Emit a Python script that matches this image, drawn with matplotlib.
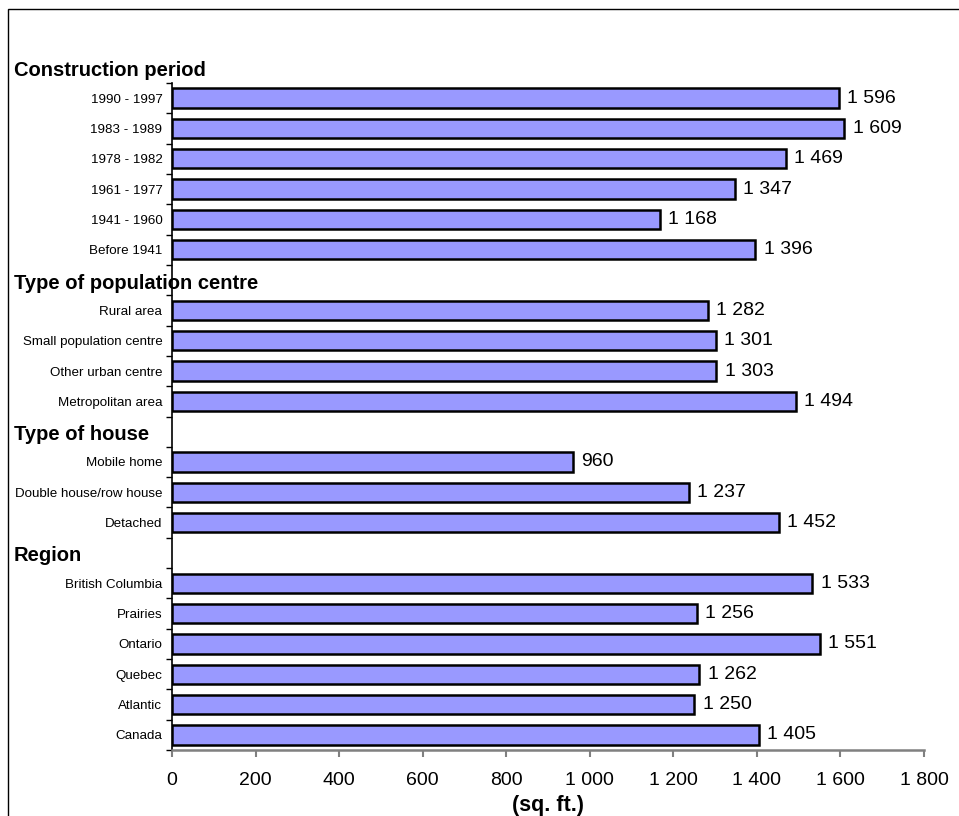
import matplotlib
import matplotlib.pyplot as plt
import matplotlib.patches as mpatches
import matplotlib.transforms as mtransforms

matplotlib.use("Agg")

plt.rcParams["font.family"] = ["Liberation Sans", "DejaVu Sans"]

# data, top to bottom within each group
construction_labels = ["1990 - 1997", "1983 - 1989", "1978 - 1982", "1961 - 1977",
                       "1941 - 1960", "Before 1941"]
construction_values = [1596, 1609, 1469, 1347, 1168, 1396]

population_labels = ["Rural area", "Small population centre", "Other urban centre",
                     "Metropolitan area"]
population_values = [1282, 1301, 1303, 1494]

house_labels = ["Mobile home", "Double house/row house", "Detached"]
house_values = [960, 1237, 1452]

region_labels = ["British Columbia", "Prairies", "Ontario", "Quebec", "Atlantic", "Canada"]
region_values = [1533, 1256, 1551, 1262, 1250, 1405]

group_titles = ["Construction period", "Type of population centre", "Type of house", "Region"]
x_ticks = [0, 200, 400, 600, 800, 1000, 1200, 1400, 1600, 1800]


def fmt(v):
    return f"{v:,}".replace(",", " ")


groups = [
    (construction_labels, construction_values),
    (population_labels, population_values),
    (house_labels, house_values),
    (region_labels, region_values),
]

# lay out rows: each group gets a header row followed by its bars
header_rows, bar_rows, labels, values = [], [], [], []
row = -1
for labs, vals in groups:
    header_rows.append(row)
    row += 1
    for lab, val in zip(labs, vals):
        bar_rows.append(row)
        labels.append(lab)
        values.append(val)
        row += 1
n_rows = row

fig = plt.figure(figsize=(9.59, 8.16), dpi=100)
ax = fig.add_axes([172 / 959, 66 / 816, 752 / 959, 667 / 816])

ax.barh(bar_rows, values, height=0.64, color="#9999FF", edgecolor="black", linewidth=1.8)
for r, v in zip(bar_rows, values):
    ax.annotate(fmt(v), (v, r), xytext=(6, 0), textcoords="offset points",
                va="center", ha="left", fontsize=14)

ax.set_ylim(n_rows - 0.5, -0.5)
ax.set_xlim(0, 1800)
ax.set_yticks(bar_rows)
ax.set_yticklabels(labels, fontsize=9.6)
ax.set_yticks([i - 0.5 for i in range(n_rows + 1)], minor=True)
ax.tick_params(axis="y", which="major", length=0, pad=7)
ax.tick_params(axis="y", which="minor", length=4, direction="out", width=1)

ax.set_xticks(x_ticks)
ax.set_xticklabels([fmt(t) for t in x_ticks], fontsize=14)
ax.tick_params(axis="x", length=5, width=1.5, color="#808080", pad=11)

ax.spines["top"].set_visible(False)
ax.spines["right"].set_visible(False)
ax.spines["left"].set_linewidth(1.2)
ax.spines["bottom"].set_color("#808080")
ax.spines["bottom"].set_linewidth(1.8)

ax.set_xlabel("(sq. ft.)", fontsize=15.5, fontweight="bold", labelpad=4)

# group headers, left-aligned near the figure edge
trans = mtransforms.blended_transform_factory(fig.transFigure, ax.transData)
for title, r in zip(group_titles, header_rows):
    ax.text(14 / 959, r + 0.1, title, transform=trans, fontsize=14.5, fontweight="bold",
            ha="left", va="center")

# outer frame (bottom and right run off the picture)
frame = mpatches.Rectangle((8 / 959, -0.1), 1.2, 1 - 9 / 816 + 0.1,
                           transform=fig.transFigure, fill=False,
                           edgecolor="black", linewidth=1)
fig.patches.append(frame)

fig.savefig("out.png", dpi=100, facecolor="white")
plt.close(fig)
